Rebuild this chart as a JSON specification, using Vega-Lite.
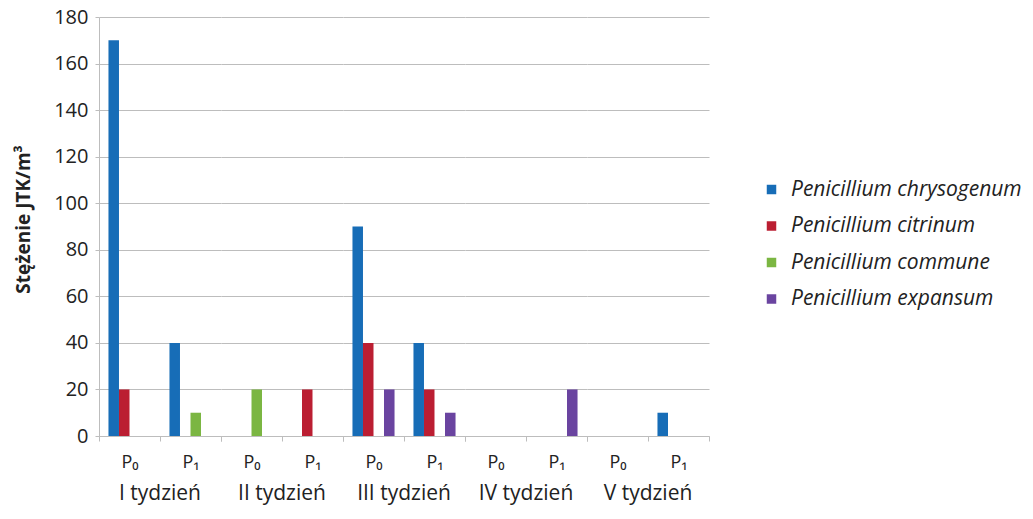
{
  "$schema": "https://vega.github.io/schema/vega-lite/v6.json",
  "padding": {"left": 14, "top": 7, "right": 5, "bottom": 5},
  "background": "white",
  "spacing": 0,
  "config": {
    "view": {"stroke": null},
    "font": "Open Sans",
    "axis": {"labelFont": "Open Sans", "titleFont": "Open Sans", "labelColor": "#222222", "titleColor": "#222222"},
    "header": {"labelFont": "Open Sans", "labelColor": "#222222"}
  },
  "data": {
    "values": [
      {"week": "I tydzień", "p": "P0", "species": "Penicillium chrysogenum", "value": 170},
      {"week": "I tydzień", "p": "P0", "species": "Penicillium citrinum", "value": 20},
      {"week": "I tydzień", "p": "P1", "species": "Penicillium chrysogenum", "value": 40},
      {"week": "I tydzień", "p": "P1", "species": "Penicillium commune", "value": 10},
      {"week": "II tydzień", "p": "P0", "species": "Penicillium commune", "value": 20},
      {"week": "II tydzień", "p": "P1", "species": "Penicillium citrinum", "value": 20},
      {"week": "III tydzień", "p": "P0", "species": "Penicillium chrysogenum", "value": 90},
      {"week": "III tydzień", "p": "P0", "species": "Penicillium citrinum", "value": 40},
      {"week": "III tydzień", "p": "P0", "species": "Penicillium expansum", "value": 20},
      {"week": "III tydzień", "p": "P1", "species": "Penicillium chrysogenum", "value": 40},
      {"week": "III tydzień", "p": "P1", "species": "Penicillium citrinum", "value": 20},
      {"week": "III tydzień", "p": "P1", "species": "Penicillium expansum", "value": 10},
      {"week": "IV tydzień", "p": "P1", "species": "Penicillium expansum", "value": 20},
      {"week": "V tydzień", "p": "P1", "species": "Penicillium chrysogenum", "value": 10}
    ]
  },
  "facet": {
    "column": {
      "field": "week",
      "type": "nominal",
      "sort": ["I tydzień", "II tydzień", "III tydzień", "IV tydzień", "V tydzień"],
      "title": null,
      "header": {"labelOrient": "bottom", "labelFontSize": 21, "labelPadding": 12}
    }
  },
  "spec": {
    "width": 122,
    "height": 419,
    "mark": {"type": "bar"},
    "encoding": {
      "x": {
        "field": "p",
        "type": "nominal",
        "scale": {"domain": ["P0", "P1"], "paddingInner": 0, "paddingOuter": 0},
        "title": null,
        "axis": {
          "labelExpr": "datum.value == 'P0' ? 'P₀' : (datum.value == 'P1' ? 'P₁' : '')",
          "labelAngle": 0,
          "tickBand": "extent",
          "tickSize": 5,
          "tickColor": "#bdbdbd",
          "domainColor": "#bdbdbd",
          "labelFontSize": 18,
          "labelPadding": 12
        }
      },
      "xOffset": {
        "field": "species",
        "type": "nominal",
        "scale": {
          "domain": ["Penicillium chrysogenum", "Penicillium citrinum", "Penicillium commune", "Penicillium expansum"],
          "paddingInner": 0,
          "paddingOuter": 0.9
        }
      },
      "y": {
        "field": "value",
        "type": "quantitative",
        "scale": {"domain": [0, 180], "nice": false},
        "title": "Stężenie JTK/m³",
        "axis": {
          "values": [0, 20, 40, 60, 80, 100, 120, 140, 160, 180],
          "grid": true,
          "gridColor": "#bdbdbd",
          "domainColor": "#bdbdbd",
          "tickColor": "#bdbdbd",
          "tickSize": 4,
          "labelFontSize": 20,
          "labelPadding": 7,
          "titleFontSize": 19,
          "titleFontWeight": "bold",
          "titlePadding": 20,
          "titleY": 202
        }
      },
      "color": {
        "field": "species",
        "type": "nominal",
        "scale": {
          "domain": ["Penicillium chrysogenum", "Penicillium citrinum", "Penicillium commune", "Penicillium expansum"],
          "range": ["#176db7", "#bb1e32", "#7bb642", "#6a44a0"]
        },
        "legend": {
          "title": null,
          "orient": "none",
          "legendX": 662,
          "legendY": 162,
          "padding": 0,
          "symbolType": "square",
          "symbolSize": 90,
          "symbolStrokeWidth": 0,
          "labelFont": "Open Sans",
          "labelFontSize": 21,
          "labelFontStyle": "italic",
          "labelColor": "#222222",
          "labelOffset": 9,
          "rowPadding": 14.5,
          "labelLimit": 400
        }
      }
    }
  }
}
